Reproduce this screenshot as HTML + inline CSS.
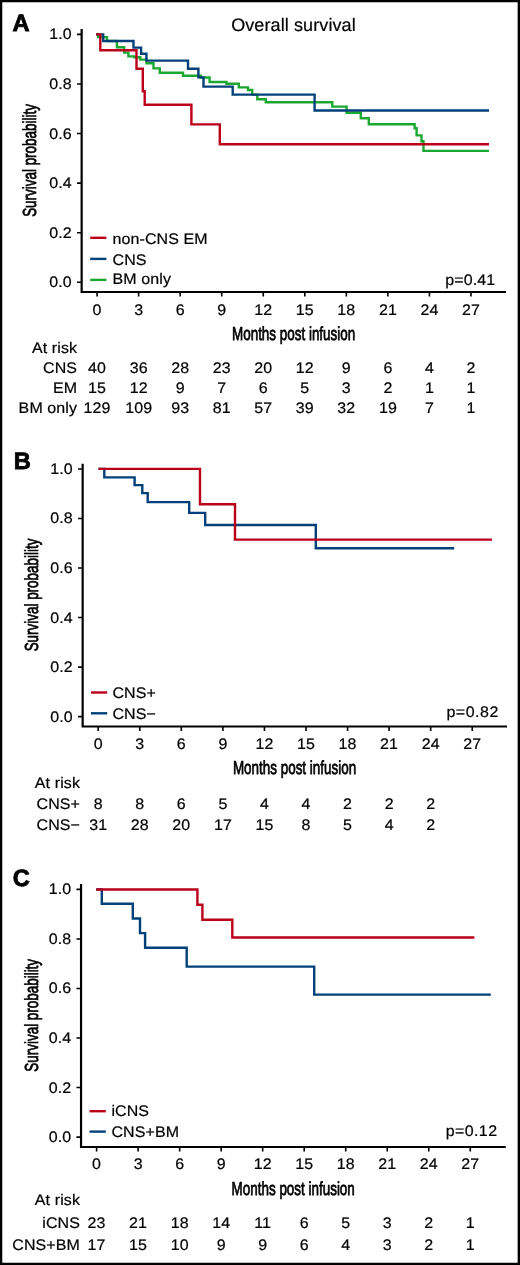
<!DOCTYPE html>
<html><head><meta charset="utf-8"><style>
html,body{margin:0;padding:0;background:#fff;}
body{width:520px;height:1265px;overflow:hidden;}
svg{display:block;will-change:transform;}
text{text-rendering:geometricPrecision;font-family:"Liberation Sans",sans-serif;font-size:15.3px;fill:#000;letter-spacing:0.1px;stroke:#000;stroke-width:0.2px;}
text.cond{font-size:18.9px;letter-spacing:0;stroke-width:0.75px;}
text.big{font-size:23.6px;font-weight:bold;stroke-width:0.8px;}
</style></head><body>
<svg width="520" height="1265" viewBox="0 0 520 1265">
<rect x="0" y="0" width="520" height="1265" fill="#fff"/>
<path d="M0 0H520V2.2H0ZM0 1262.75H520V1265H0ZM0 0H2.25V1265H0ZM517.65 0H520V1265H517.65Z" fill="#000"/>
<text x="293.5" y="31" text-anchor="middle" style="font-size:18px">Overall survival</text>
<path d="M81.65 29.099999999999998V292.0H506.0" fill="none" stroke="#000" stroke-width="2.2" stroke-linejoin="miter" stroke-linecap="butt"/>
<path d="M77.05 34.40H81.65M77.05 83.98H81.65M77.05 133.56H81.65M77.05 183.14H81.65M77.05 232.72H81.65M77.05 282.30H81.65M97.10 292.0V296.60M138.64 292.0V296.60M180.18 292.0V296.60M221.72 292.0V296.60M263.26 292.0V296.60M304.80 292.0V296.60M346.34 292.0V296.60M387.88 292.0V296.60M429.42 292.0V296.60M470.96 292.0V296.60" stroke="#000" stroke-width="1.6" fill="none"/>
<text transform="translate(71.85 39.35) scale(1.045 1)" text-anchor="end">1.0</text>
<text transform="translate(71.85 88.93) scale(1.045 1)" text-anchor="end">0.8</text>
<text transform="translate(71.85 138.51) scale(1.045 1)" text-anchor="end">0.6</text>
<text transform="translate(71.85 188.09) scale(1.045 1)" text-anchor="end">0.4</text>
<text transform="translate(71.85 237.67) scale(1.045 1)" text-anchor="end">0.2</text>
<text transform="translate(71.85 287.25) scale(1.045 1)" text-anchor="end">0.0</text>
<text transform="translate(97.10 314.50) scale(1.045 1)" text-anchor="middle">0</text>
<text transform="translate(138.64 314.50) scale(1.045 1)" text-anchor="middle">3</text>
<text transform="translate(180.18 314.50) scale(1.045 1)" text-anchor="middle">6</text>
<text transform="translate(221.72 314.50) scale(1.045 1)" text-anchor="middle">9</text>
<text transform="translate(263.26 314.50) scale(1.045 1)" text-anchor="middle">12</text>
<text transform="translate(304.80 314.50) scale(1.045 1)" text-anchor="middle">15</text>
<text transform="translate(346.34 314.50) scale(1.045 1)" text-anchor="middle">18</text>
<text transform="translate(387.88 314.50) scale(1.045 1)" text-anchor="middle">21</text>
<text transform="translate(429.42 314.50) scale(1.045 1)" text-anchor="middle">24</text>
<text transform="translate(470.96 314.50) scale(1.045 1)" text-anchor="middle">27</text>
<text class="cond" transform="translate(35.9 160.5) rotate(-90) scale(0.711 1)" text-anchor="middle">Survival probability</text>
<text class="cond" transform="translate(293.6 339.9) scale(0.711 1)" text-anchor="middle">Months post infusion</text>
<text transform="translate(495.30 284.90) scale(1.045 1)" text-anchor="end" style="letter-spacing:0.1px">p=0.41</text>
<path d="M90.2 237.8H106.4" stroke="#bb001a" stroke-width="2.4"/>
<text transform="translate(112.50 243.60) scale(1.045 1)">non-CNS EM</text>
<path d="M90.2 258.9H106.4" stroke="#02407a" stroke-width="2.4"/>
<text transform="translate(112.50 264.60) scale(1.045 1)">CNS</text>
<path d="M90.2 279.9H106.4" stroke="#1ca830" stroke-width="2.4"/>
<text transform="translate(112.50 283.80) scale(1.045 1)">BM only</text>
<path d="M96.2 34.4H98.2V37.1H107V41H116.9V47.3H124.2V52.6H128.4V56.4H134.4V57.2H140.3V59.6H146.5V63.2H153.5V68.4H159.8V72.8H183V75.7H200.8V77.5H209.6V82H226.5V83.8H238.8V87.4H248V90H252.2V94.6H257.3V99.2H265.8V102.3H332.3V106.6H346.6V112.8H360.8V118.2H368.8V124.2H414.6V128.2H416.6V135.4H421.5V141.2H423.5V150.9H489" fill="none" stroke="#1ca830" stroke-width="2.4" stroke-linejoin="miter" stroke-miterlimit="4"/>
<path d="M96.2 34.4H103.2V41H133.5V47.6H141.1V53.7H146.4V60.6H188V68.8H198.4V77.4H203.5V86.6H232.7V94.6H314.6V110.55H489" fill="none" stroke="#02407a" stroke-width="2.4" stroke-linejoin="miter" stroke-miterlimit="4"/>
<path d="M96.2 34.4H100.3V50.2H136.5V68.7H142.8V91.2H144.7V104.8H191.4V124.4H219.8V144.3H489" fill="none" stroke="#bb001a" stroke-width="2.4" stroke-linejoin="miter" stroke-miterlimit="4"/>
<text transform="translate(77.10 352.80) scale(1.045 1)" text-anchor="end">At risk</text>
<text transform="translate(77.10 373.20) scale(1.045 1)" text-anchor="end">CNS</text>
<text transform="translate(97.10 373.20) scale(1.045 1)" text-anchor="middle">40</text>
<text transform="translate(138.64 373.20) scale(1.045 1)" text-anchor="middle">36</text>
<text transform="translate(180.18 373.20) scale(1.045 1)" text-anchor="middle">28</text>
<text transform="translate(221.72 373.20) scale(1.045 1)" text-anchor="middle">23</text>
<text transform="translate(263.26 373.20) scale(1.045 1)" text-anchor="middle">20</text>
<text transform="translate(304.80 373.20) scale(1.045 1)" text-anchor="middle">12</text>
<text transform="translate(346.34 373.20) scale(1.045 1)" text-anchor="middle">9</text>
<text transform="translate(387.88 373.20) scale(1.045 1)" text-anchor="middle">6</text>
<text transform="translate(429.42 373.20) scale(1.045 1)" text-anchor="middle">4</text>
<text transform="translate(470.96 373.20) scale(1.045 1)" text-anchor="middle">2</text>
<text transform="translate(77.10 392.90) scale(1.045 1)" text-anchor="end">EM</text>
<text transform="translate(97.10 392.90) scale(1.045 1)" text-anchor="middle">15</text>
<text transform="translate(138.64 392.90) scale(1.045 1)" text-anchor="middle">12</text>
<text transform="translate(180.18 392.90) scale(1.045 1)" text-anchor="middle">9</text>
<text transform="translate(221.72 392.90) scale(1.045 1)" text-anchor="middle">7</text>
<text transform="translate(263.26 392.90) scale(1.045 1)" text-anchor="middle">6</text>
<text transform="translate(304.80 392.90) scale(1.045 1)" text-anchor="middle">5</text>
<text transform="translate(346.34 392.90) scale(1.045 1)" text-anchor="middle">3</text>
<text transform="translate(387.88 392.90) scale(1.045 1)" text-anchor="middle">2</text>
<text transform="translate(429.42 392.90) scale(1.045 1)" text-anchor="middle">1</text>
<text transform="translate(470.96 392.90) scale(1.045 1)" text-anchor="middle">1</text>
<text transform="translate(77.10 412.60) scale(1.045 1)" text-anchor="end">BM only</text>
<text transform="translate(97.10 412.60) scale(1.045 1)" text-anchor="middle">129</text>
<text transform="translate(138.64 412.60) scale(1.045 1)" text-anchor="middle">109</text>
<text transform="translate(180.18 412.60) scale(1.045 1)" text-anchor="middle">93</text>
<text transform="translate(221.72 412.60) scale(1.045 1)" text-anchor="middle">81</text>
<text transform="translate(263.26 412.60) scale(1.045 1)" text-anchor="middle">57</text>
<text transform="translate(304.80 412.60) scale(1.045 1)" text-anchor="middle">39</text>
<text transform="translate(346.34 412.60) scale(1.045 1)" text-anchor="middle">32</text>
<text transform="translate(387.88 412.60) scale(1.045 1)" text-anchor="middle">19</text>
<text transform="translate(429.42 412.60) scale(1.045 1)" text-anchor="middle">7</text>
<text transform="translate(470.96 412.60) scale(1.045 1)" text-anchor="middle">1</text>
<text class="big" x="12.5" y="30.5">A</text>
<path d="M82.65 463.7V726.5H507.0" fill="none" stroke="#000" stroke-width="2.2" stroke-linejoin="miter" stroke-linecap="butt"/>
<path d="M78.05 469.00H82.65M78.05 518.52H82.65M78.05 568.04H82.65M78.05 617.56H82.65M78.05 667.08H82.65M78.05 716.60H82.65M98.20 726.5V731.10M139.76 726.5V731.10M181.32 726.5V731.10M222.88 726.5V731.10M264.44 726.5V731.10M306.00 726.5V731.10M347.56 726.5V731.10M389.12 726.5V731.10M430.68 726.5V731.10M472.24 726.5V731.10" stroke="#000" stroke-width="1.6" fill="none"/>
<text transform="translate(72.85 473.95) scale(1.045 1)" text-anchor="end">1.0</text>
<text transform="translate(72.85 523.47) scale(1.045 1)" text-anchor="end">0.8</text>
<text transform="translate(72.85 572.99) scale(1.045 1)" text-anchor="end">0.6</text>
<text transform="translate(72.85 622.51) scale(1.045 1)" text-anchor="end">0.4</text>
<text transform="translate(72.85 672.03) scale(1.045 1)" text-anchor="end">0.2</text>
<text transform="translate(72.85 721.55) scale(1.045 1)" text-anchor="end">0.0</text>
<text transform="translate(98.20 748.50) scale(1.045 1)" text-anchor="middle">0</text>
<text transform="translate(139.76 748.50) scale(1.045 1)" text-anchor="middle">3</text>
<text transform="translate(181.32 748.50) scale(1.045 1)" text-anchor="middle">6</text>
<text transform="translate(222.88 748.50) scale(1.045 1)" text-anchor="middle">9</text>
<text transform="translate(264.44 748.50) scale(1.045 1)" text-anchor="middle">12</text>
<text transform="translate(306.00 748.50) scale(1.045 1)" text-anchor="middle">15</text>
<text transform="translate(347.56 748.50) scale(1.045 1)" text-anchor="middle">18</text>
<text transform="translate(389.12 748.50) scale(1.045 1)" text-anchor="middle">21</text>
<text transform="translate(430.68 748.50) scale(1.045 1)" text-anchor="middle">24</text>
<text transform="translate(472.24 748.50) scale(1.045 1)" text-anchor="middle">27</text>
<text class="cond" transform="translate(38.0 595.0) rotate(-90) scale(0.711 1)" text-anchor="middle">Survival probability</text>
<text class="cond" transform="translate(294.5 774.2) scale(0.711 1)" text-anchor="middle">Months post infusion</text>
<text transform="translate(498.90 717.40) scale(1.045 1)" text-anchor="end" style="letter-spacing:0.5px">p=0.82</text>
<path d="M91.0 692.5H107.2" stroke="#bb001a" stroke-width="2.4"/>
<text transform="translate(112.40 698.30) scale(1.045 1)">CNS+</text>
<path d="M91.0 713.3H107.2" stroke="#02407a" stroke-width="2.4"/>
<text transform="translate(112.40 718.50) scale(1.045 1)">CNS−</text>
<path d="M98.5 468.9H104.3V477.4H134.6V485.1H142.3V493.1H147.7V502.1H189.2V512.9H205.2V525H315.8V548.3H454.2" fill="none" stroke="#02407a" stroke-width="2.4" stroke-linejoin="miter" stroke-miterlimit="4"/>
<path d="M98.5 468.9H200V504.2H235V539.6H492" fill="none" stroke="#bb001a" stroke-width="2.4" stroke-linejoin="miter" stroke-miterlimit="4"/>
<text transform="translate(80.00 787.70) scale(1.045 1)" text-anchor="end">At risk</text>
<text transform="translate(80.00 808.60) scale(1.045 1)" text-anchor="end">CNS+</text>
<text transform="translate(98.20 808.60) scale(1.045 1)" text-anchor="middle">8</text>
<text transform="translate(139.76 808.60) scale(1.045 1)" text-anchor="middle">8</text>
<text transform="translate(181.32 808.60) scale(1.045 1)" text-anchor="middle">6</text>
<text transform="translate(222.88 808.60) scale(1.045 1)" text-anchor="middle">5</text>
<text transform="translate(264.44 808.60) scale(1.045 1)" text-anchor="middle">4</text>
<text transform="translate(306.00 808.60) scale(1.045 1)" text-anchor="middle">4</text>
<text transform="translate(347.56 808.60) scale(1.045 1)" text-anchor="middle">2</text>
<text transform="translate(389.12 808.60) scale(1.045 1)" text-anchor="middle">2</text>
<text transform="translate(430.68 808.60) scale(1.045 1)" text-anchor="middle">2</text>
<text transform="translate(80.00 829.60) scale(1.045 1)" text-anchor="end">CNS−</text>
<text transform="translate(98.20 829.60) scale(1.045 1)" text-anchor="middle">31</text>
<text transform="translate(139.76 829.60) scale(1.045 1)" text-anchor="middle">28</text>
<text transform="translate(181.32 829.60) scale(1.045 1)" text-anchor="middle">20</text>
<text transform="translate(222.88 829.60) scale(1.045 1)" text-anchor="middle">17</text>
<text transform="translate(264.44 829.60) scale(1.045 1)" text-anchor="middle">15</text>
<text transform="translate(306.00 829.60) scale(1.045 1)" text-anchor="middle">8</text>
<text transform="translate(347.56 829.60) scale(1.045 1)" text-anchor="middle">5</text>
<text transform="translate(389.12 829.60) scale(1.045 1)" text-anchor="middle">4</text>
<text transform="translate(430.68 829.60) scale(1.045 1)" text-anchor="middle">2</text>
<text class="big" x="13.8" y="468.7">B</text>
<path d="M81.05 884.1V1147.0H505.75" fill="none" stroke="#000" stroke-width="2.2" stroke-linejoin="miter" stroke-linecap="butt"/>
<path d="M76.45 889.40H81.05M76.45 938.94H81.05M76.45 988.48H81.05M76.45 1038.02H81.05M76.45 1087.56H81.05M76.45 1137.10H81.05M96.60 1147.0V1151.60M138.12 1147.0V1151.60M179.64 1147.0V1151.60M221.16 1147.0V1151.60M262.68 1147.0V1151.60M304.20 1147.0V1151.60M345.72 1147.0V1151.60M387.24 1147.0V1151.60M428.76 1147.0V1151.60M470.28 1147.0V1151.60" stroke="#000" stroke-width="1.6" fill="none"/>
<text transform="translate(71.25 894.35) scale(1.045 1)" text-anchor="end">1.0</text>
<text transform="translate(71.25 943.89) scale(1.045 1)" text-anchor="end">0.8</text>
<text transform="translate(71.25 993.43) scale(1.045 1)" text-anchor="end">0.6</text>
<text transform="translate(71.25 1042.97) scale(1.045 1)" text-anchor="end">0.4</text>
<text transform="translate(71.25 1092.51) scale(1.045 1)" text-anchor="end">0.2</text>
<text transform="translate(71.25 1142.05) scale(1.045 1)" text-anchor="end">0.0</text>
<text transform="translate(96.60 1169.00) scale(1.045 1)" text-anchor="middle">0</text>
<text transform="translate(138.12 1169.00) scale(1.045 1)" text-anchor="middle">3</text>
<text transform="translate(179.64 1169.00) scale(1.045 1)" text-anchor="middle">6</text>
<text transform="translate(221.16 1169.00) scale(1.045 1)" text-anchor="middle">9</text>
<text transform="translate(262.68 1169.00) scale(1.045 1)" text-anchor="middle">12</text>
<text transform="translate(304.20 1169.00) scale(1.045 1)" text-anchor="middle">15</text>
<text transform="translate(345.72 1169.00) scale(1.045 1)" text-anchor="middle">18</text>
<text transform="translate(387.24 1169.00) scale(1.045 1)" text-anchor="middle">21</text>
<text transform="translate(428.76 1169.00) scale(1.045 1)" text-anchor="middle">24</text>
<text transform="translate(470.28 1169.00) scale(1.045 1)" text-anchor="middle">27</text>
<text class="cond" transform="translate(38.0 1015.3) rotate(-90) scale(0.711 1)" text-anchor="middle">Survival probability</text>
<text class="cond" transform="translate(293.2 1194.7) scale(0.711 1)" text-anchor="middle">Months post infusion</text>
<text transform="translate(497.50 1135.80) scale(1.045 1)" text-anchor="end" style="letter-spacing:0.4px">p=0.12</text>
<path d="M89.5 1111.2H105.8" stroke="#bb001a" stroke-width="2.4"/>
<text transform="translate(111.40 1116.20) scale(1.045 1)">iCNS</text>
<path d="M89.5 1131.6H105.8" stroke="#02407a" stroke-width="2.4"/>
<text transform="translate(111.40 1137.30) scale(1.045 1)">CNS+BM</text>
<path d="M96.2 889.5H101.8V903.8H132.8V918.5H140V933.1H145.1V947.7H186.7V966.6H314.2V994.6H490.8" fill="none" stroke="#02407a" stroke-width="2.4" stroke-linejoin="miter" stroke-miterlimit="4"/>
<path d="M96.2 889.5H197.4V904.7H202.4V919.7H232.3V937.5H474.4" fill="none" stroke="#bb001a" stroke-width="2.4" stroke-linejoin="miter" stroke-miterlimit="4"/>
<text transform="translate(80.00 1204.60) scale(1.045 1)" text-anchor="end">At risk</text>
<text transform="translate(80.00 1227.90) scale(1.045 1)" text-anchor="end">iCNS</text>
<text transform="translate(96.60 1227.90) scale(1.045 1)" text-anchor="middle">23</text>
<text transform="translate(138.12 1227.90) scale(1.045 1)" text-anchor="middle">21</text>
<text transform="translate(179.64 1227.90) scale(1.045 1)" text-anchor="middle">18</text>
<text transform="translate(221.16 1227.90) scale(1.045 1)" text-anchor="middle">14</text>
<text transform="translate(262.68 1227.90) scale(1.045 1)" text-anchor="middle">11</text>
<text transform="translate(304.20 1227.90) scale(1.045 1)" text-anchor="middle">6</text>
<text transform="translate(345.72 1227.90) scale(1.045 1)" text-anchor="middle">5</text>
<text transform="translate(387.24 1227.90) scale(1.045 1)" text-anchor="middle">3</text>
<text transform="translate(428.76 1227.90) scale(1.045 1)" text-anchor="middle">2</text>
<text transform="translate(470.28 1227.90) scale(1.045 1)" text-anchor="middle">1</text>
<text transform="translate(80.00 1250.40) scale(1.045 1)" text-anchor="end">CNS+BM</text>
<text transform="translate(96.60 1250.40) scale(1.045 1)" text-anchor="middle">17</text>
<text transform="translate(138.12 1250.40) scale(1.045 1)" text-anchor="middle">15</text>
<text transform="translate(179.64 1250.40) scale(1.045 1)" text-anchor="middle">10</text>
<text transform="translate(221.16 1250.40) scale(1.045 1)" text-anchor="middle">9</text>
<text transform="translate(262.68 1250.40) scale(1.045 1)" text-anchor="middle">9</text>
<text transform="translate(304.20 1250.40) scale(1.045 1)" text-anchor="middle">6</text>
<text transform="translate(345.72 1250.40) scale(1.045 1)" text-anchor="middle">4</text>
<text transform="translate(387.24 1250.40) scale(1.045 1)" text-anchor="middle">3</text>
<text transform="translate(428.76 1250.40) scale(1.045 1)" text-anchor="middle">2</text>
<text transform="translate(470.28 1250.40) scale(1.045 1)" text-anchor="middle">1</text>
<text class="big" x="12.8" y="886.3">C</text>
</svg>
</body></html>
